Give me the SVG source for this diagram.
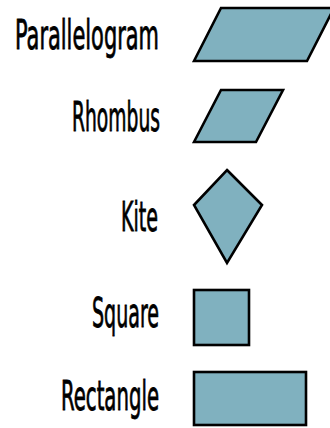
<svg xmlns="http://www.w3.org/2000/svg" width="330" height="428" viewBox="0 0 330 428">
<style>
.shape{fill:#80b1bf;stroke:#000;stroke-width:2.6;stroke-linejoin:miter}
.lbl{font-family:"DejaVu Sans Condensed","DejaVu Sans",sans-serif;font-size:40px;fill:#000;stroke:#000;stroke-width:0.8;text-anchor:end}
</style>
<rect width="330" height="428" fill="#fff"/>
<g id="parallelogram">
<text class="lbl" x="159" y="49" textLength="144" lengthAdjust="spacingAndGlyphs">Parallelogram</text>
<polygon class="shape" points="194,61 221,8 334,8 307,61"/>
</g>
<g id="rhombus">
<text class="lbl" x="160" y="131" textLength="88" lengthAdjust="spacingAndGlyphs">Rhombus</text>
<polygon class="shape" points="194,142 221,90 283,90 256,142"/>
</g>
<g id="kite">
<text class="lbl" x="158" y="231" textLength="37" lengthAdjust="spacingAndGlyphs">Kite</text>
<polygon class="shape" points="227,170 262,205 227,263 194,205"/>
</g>
<g id="square">
<text class="lbl" x="159" y="327" textLength="67" lengthAdjust="spacingAndGlyphs">Square</text>
<rect class="shape" x="194" y="290" width="55" height="55"/>
</g>
<g id="rectangle">
<text class="lbl" x="159" y="410" textLength="98" lengthAdjust="spacingAndGlyphs">Rectangle</text>
<rect class="shape" x="194" y="372" width="112" height="53"/>
</g>
</svg>
